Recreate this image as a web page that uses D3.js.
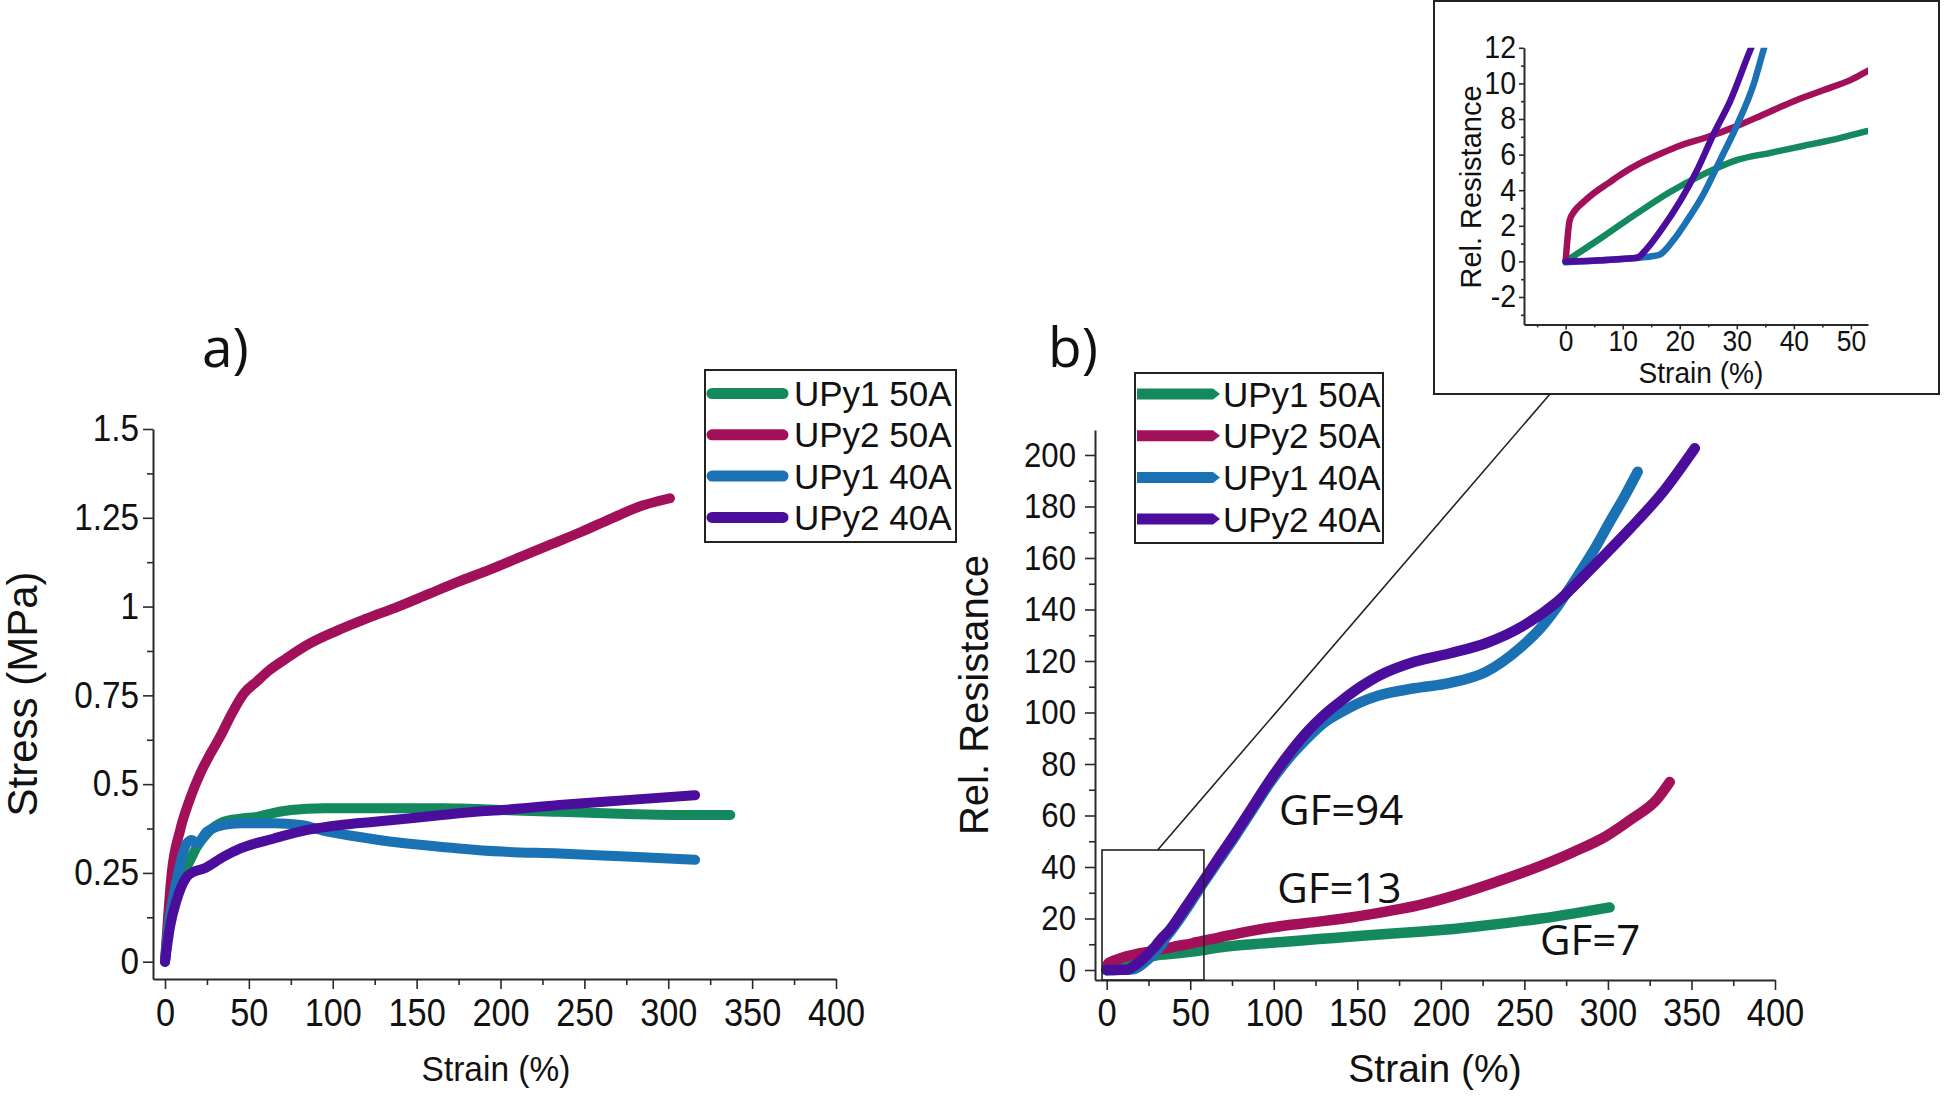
<!DOCTYPE html>
<html><head><meta charset="utf-8">
<script src="https://cdn.jsdelivr.net/npm/d3@7"></script>
<style>
html,body{margin:0;padding:0;background:#fff;}
svg{display:block;}
</style></head><body>
<svg id="chart" width="1944" height="1096"></svg>
<script>
// ---------------- DATA ----------------
const seriesNames = ["UPy1 50A", "UPy2 50A", "UPy1 40A", "UPy2 40A"];
const seriesColors = ["#14895d", "#a3105a", "#1a72b5", "#4b0d9c"];

// Panel a: stress (MPa) vs strain (%)
const stressUPy1_50A = [[0,0],[2,0.099],[7,0.2],[15,0.286],[19,0.324],[25,0.361],[35,0.394],[45,0.403],[55,0.408],[65,0.419],[75,0.427],[95,0.432],[125,0.432],[165,0.432],[201,0.427],[235,0.422],[275,0.416],[315,0.413],[337,0.413]];
const stressUPy2_50A = [[0,0],[4,0.25],[9,0.37],[15,0.46],[21,0.53],[27,0.585],[33,0.635],[40,0.7],[47,0.755],[55,0.79],[62,0.82],[72,0.853],[84,0.89],[102,0.931],[120,0.966],[139,1.0],[157,1.035],[175,1.07],[194,1.105],[212,1.14],[230,1.175],[248,1.21],[267,1.25],[285,1.285],[301,1.305]];
const stressUPy1_40A = [[0,0],[3,0.127],[7,0.23],[13,0.333],[16,0.343],[19,0.333],[25,0.366],[35,0.385],[45,0.39],[65,0.39],[81,0.385],[97,0.366],[115,0.352],[135,0.338],[155,0.328],[175,0.319],[201,0.31],[235,0.305],[275,0.296],[316,0.287]];
const stressUPy2_40A = [[0,0],[3,0.099],[7,0.174],[13,0.239],[17,0.253],[23,0.262],[35,0.296],[45,0.319],[65,0.347],[85,0.371],[105,0.385],[125,0.394],[145,0.403],[165,0.413],[185,0.422],[201,0.427],[235,0.441],[275,0.455],[316,0.469]];

// Panel b: relative resistance vs strain (%)
const resUPy1_50A = [[0,0],[6.6,1.4],[12.5,2.7],[18.3,3.9],[24.2,4.9],[30.1,5.7],[35.9,6.1],[41.8,6.5],[47.7,6.9],[52.6,7.3],[67,8.7],[87,10],[107,11],[127,12],[147,13],[167,14],[187,14.9],[200,15.5],[220,16.8],[240,18.3],[260,20],[280,22],[301,24.3]];
const resUPy2_50A = [[0,0],[0.7,2.3],[1.5,2.8],[3,3.3],[5,3.85],[7.5,4.4],[10,4.95],[13,5.5],[17,6.1],[20,6.5],[25,7.0],[30,7.6],[35,8.3],[40,9.0],[45,9.6],[50,10.2],[53,10.7],[67,12.6],[85,15],[107,17.3],[127,18.8],[147,20.5],[167,22.7],[187,25.2],[206,28.5],[230,33.5],[260,40.5],[280,46],[299,52],[315,59],[329,66],[337,73]];
const resUPy1_40A = [[0,-0.05],[9.6,0.13],[15.4,0.3],[16.6,0.4],[18.9,1.2],[21.3,2.3],[24.2,3.8],[27.1,5.7],[30.1,7.7],[33,10],[34.8,12],[40,16.5],[47,23],[57,33],[67,42.5],[77,52],[87,62],[97,72],[108,81.5],[120,90],[130,96],[141.4,100.5],[152,104],[162.8,106.6],[184.2,109.4],[205.6,111.5],[227,115.8],[248.3,125.6],[260,133],[269.7,141.1],[280.4,151.5],[291.1,162.5],[301.8,174.8],[310,184],[317.8,193.5]];
const resUPy2_40A = [[0,0],[6.6,0.07],[12.5,0.2],[14.2,0.7],[16.6,1.7],[20.1,3.4],[23,5.1],[26,7.2],[28.9,9.05],[32.4,11.9],[37,15],[47,24.2],[57,33.8],[67,43.5],[77,53],[87,63],[97,73],[108,83],[120,92.5],[130,99],[141.4,105],[152,110],[162.8,114.2],[184.2,119.7],[205.6,123],[227,126.9],[248.3,133.3],[269.7,143],[291.1,156.6],[312.5,170.9],[333.9,186.4],[352,202.6]];

// Ticks
const strainTicks = [0,50,100,150,200,250,300,350,400];
const strainMinor = [25,75,125,175,225,275,325,375];
const stressTicks = [0,0.25,0.5,0.75,1,1.25,1.5];
const stressMinor = [0.125,0.375,0.625,0.875,1.125,1.375];
const resTicks = [0,20,40,60,80,100,120,140,160,180,200];
const resMinor = [10,30,50,70,90,110,130,150,170,190];
const insetStrainTicks = [0,10,20,30,40,50];
const insetStrainMinor = [-5,5,15,25,35,45];
const insetResTicks = [-2,0,2,4,6,8,10,12];
const insetResMinor = [-3,-1,1,3,5,7,9,11];

// Annotations (data coordinates of panel b)
const gfLabels = [["GF=94",103.1,56.3],["GF=13",102.1,25.9],["GF=7",259.3,5.8]];
const zoomRegion = [-2.8, 58.2, -3.9, 46.6]; // x0,x1,y0,y1

// ---------------- DRAW ----------------
const svg = d3.select("#chart");
const FONT = "'Liberation Sans', Arial, sans-serif";
const FONT2 = "'Open Sans', 'Liberation Sans', sans-serif";
const AX = "#2a2a2a";

const stressSeries = [stressUPy1_50A, stressUPy2_50A, stressUPy1_40A, stressUPy2_40A];
const resSeries = [resUPy1_50A, resUPy2_50A, resUPy1_40A, resUPy2_40A];

function styleAxis(g, fs, sx) {
  g.attr("font-family", FONT).attr("font-size", fs);
  g.select(".domain").attr("stroke", AX).attr("stroke-width", 2);
  g.selectAll(".tick line").attr("stroke", AX).attr("stroke-width", 1.6);
  g.selectAll(".tick text").attr("fill", "#111").each(function () {
    const t = d3.select(this);
    const x = +t.attr("x") || 0;
    t.attr("x", x / sx).attr("transform", `scale(${sx},1)`);
  });
}
function drawAxes(x, y, o) {
  const gx = svg.append("g").attr("transform", `translate(0,${y.range()[0]})`)
    .call(d3.axisBottom(x).tickValues(o.xt).tickSize(o.ts).tickSizeOuter(0).tickPadding(o.xp).tickFormat(d => String(d)));
  styleAxis(gx, o.xfs, o.xsx);
  const gxm = svg.append("g").attr("transform", `translate(0,${y.range()[0]})`)
    .call(d3.axisBottom(x).tickValues(o.xm).tickSize(o.ms).tickFormat(""));
  gxm.select(".domain").remove(); styleAxis(gxm, o.xfs, 1);
  const gy = svg.append("g").attr("transform", `translate(${x.range()[0]},0)`)
    .call(d3.axisLeft(y).tickValues(o.yt).tickSize(o.ts).tickSizeOuter(0).tickPadding(o.yp).tickFormat(d => String(d)));
  styleAxis(gy, o.yfs, o.ysx);
  const gym = svg.append("g").attr("transform", `translate(${x.range()[0]},0)`)
    .call(d3.axisLeft(y).tickValues(o.ym).tickSize(o.ms).tickFormat(""));
  gym.select(".domain").remove(); styleAxis(gym, o.yfs, 1);
}
function text(t, x, y, fs, opts = {}) {
  const sx = opts.sx || 1;
  const el = svg.append("text").attr("font-size", fs)
    .attr("font-family", opts.font || FONT).attr("fill", "#111")
    .attr("text-anchor", opts.anchor || "start").text(t);
  if (opts.rotate) el.attr("x", x).attr("y", y).attr("transform", `rotate(-90,${x},${y})`);
  else el.attr("x", x / sx).attr("y", y).attr("transform", `scale(${sx},1)`);
  return el;
}

// ----- Panel a -----
const xA = d3.scaleLinear().domain([-7.15, 400]).range([153, 836]);
const yA = d3.scaleLinear().domain([-0.0487, 1.5]).range([979, 429]);
drawAxes(xA, yA, {xt: strainTicks, xm: strainMinor, yt: stressTicks, ym: stressMinor,
  ts: 10, ms: 6, xp: 9, yp: 4, xfs: 39, xsx: 0.88, yfs: 37, ysx: 0.9});

const lineA = d3.line().x(d => xA(d[0])).y(d => yA(d[1])).curve(d3.curveMonotoneX);
[1, 0, 2, 3].forEach(i => {
  svg.append("path").attr("d", lineA(stressSeries[i])).attr("fill", "none")
    .attr("stroke", seriesColors[i]).attr("stroke-width", 10)
    .attr("stroke-linecap", "round").attr("stroke-linejoin", "round");
});
text("Stress (MPa)", 37, 694, 42, {anchor: "middle", rotate: true});
text("Strain (%)", 496, 1081, 36, {anchor: "middle", sx: 0.93});
text("a)", 202, 367, 55, {font: FONT2});

// legend a
const legA = svg.append("g");
legA.append("rect").attr("x", 705).attr("y", 370).attr("width", 251).attr("height", 172)
  .attr("fill", "#fff").attr("stroke", "#222").attr("stroke-width", 2);
seriesNames.forEach((n, i) => {
  const yy = 393.5 + i * 41.3;
  legA.append("line").attr("x1", 712).attr("x2", 783).attr("y1", yy).attr("y2", yy)
    .attr("stroke", seriesColors[i]).attr("stroke-width", 11).attr("stroke-linecap", "round");
  legA.append("text").attr("x", 794).attr("y", yy + 12.5).attr("font-size", 35)
    .attr("font-family", FONT).attr("fill", "#111").text(n);
});

// ----- Panel b -----
const xB = d3.scaleLinear().domain([-7, 400]).range([1095, 1775]);
const yB = d3.scaleLinear().domain([-3.88, 209.7]).range([980, 430]);
drawAxes(xB, yB, {xt: strainTicks, xm: strainMinor, yt: resTicks, ym: resMinor,
  ts: 10, ms: 6, xp: 9, yp: 9, xfs: 38, xsx: 0.91, yfs: 35, ysx: 0.89});

const lineB = d3.line().x(d => xB(d[0])).y(d => yB(d[1])).curve(d3.curveMonotoneX);
[0, 1, 2, 3].forEach(i => {
  svg.append("path").attr("d", lineB(resSeries[i])).attr("fill", "none")
    .attr("stroke", seriesColors[i]).attr("stroke-width", 10.5)
    .attr("stroke-linecap", "round").attr("stroke-linejoin", "round");
});
text("Rel. Resistance", 988, 695, 40, {anchor: "middle", rotate: true});
text("Strain (%)", 1435, 1082, 39, {anchor: "middle"});
text("b)", 1048, 367, 55, {font: FONT2});
gfLabels.forEach(g => text(g[0], xB(g[1]), yB(g[2]), 42, {font: FONT2}));

// zoom rectangle
svg.append("rect").attr("x", xB(zoomRegion[0])).attr("y", yB(zoomRegion[3]))
  .attr("width", xB(zoomRegion[1]) - xB(zoomRegion[0]))
  .attr("height", yB(zoomRegion[2]) - yB(zoomRegion[3]))
  .attr("fill", "none").attr("stroke", "#222").attr("stroke-width", 1.6);

// legend b
const legB = svg.append("g");
legB.append("rect").attr("x", 1135).attr("y", 373).attr("width", 248).attr("height", 170)
  .attr("fill", "#fff").attr("stroke", "#222").attr("stroke-width", 2);
seriesNames.forEach((n, i) => {
  const yy = 394 + i * 41.7;
  legB.append("path").attr("d", `M1137,${yy-5.5} L1213,${yy-5.5} L1220,${yy} L1213,${yy+5.5} L1137,${yy+5.5} Z`)
    .attr("fill", seriesColors[i]);
  legB.append("text").attr("x", 1223).attr("y", yy + 12.5).attr("font-size", 35)
    .attr("font-family", FONT).attr("fill", "#111").text(n);
});

// ----- Inset -----
const frame = {x: 1434, y: 1, w: 505, h: 393};
svg.append("rect").attr("x", frame.x).attr("y", frame.y).attr("width", frame.w).attr("height", frame.h)
  .attr("fill", "#fff").attr("stroke", "#222").attr("stroke-width", 2);
svg.append("line").attr("x1", xB(30.5)).attr("y1", yB(zoomRegion[3]))
  .attr("x2", frame.x + 116).attr("y2", frame.y + frame.h)
  .attr("stroke", "#222").attr("stroke-width", 1.6);

const xI = d3.scaleLinear().domain([-7.3, 53]).range([1524, 1868]);
const yI = d3.scaleLinear().domain([-3.54, 12]).range([324.4, 47.8]);
drawAxes(xI, yI, {xt: insetStrainTicks, xm: insetStrainMinor, yt: insetResTicks, ym: insetResMinor,
  ts: 5, ms: 3, xp: 0, yp: 3, xfs: 30, xsx: 0.88, yfs: 31, ysx: 0.92});

svg.append("clipPath").attr("id", "insetClip").append("rect")
  .attr("x", xI.range()[0]).attr("y", yI.range()[1])
  .attr("width", xI.range()[1] - xI.range()[0]).attr("height", yI.range()[0] - yI.range()[1]);
const lineI = d3.line().x(d => xI(d[0])).y(d => yI(d[1])).curve(d3.curveMonotoneX);
const gI = svg.append("g").attr("clip-path", "url(#insetClip)");
[0, 1, 2, 3].forEach(i => {
  gI.append("path").attr("d", lineI(resSeries[i].filter(d => d[0] <= 70))).attr("fill", "none")
    .attr("stroke", seriesColors[i]).attr("stroke-width", 6.5)
    .attr("stroke-linecap", "round").attr("stroke-linejoin", "round");
});
text("Rel. Resistance", 1481, 187, 29, {anchor: "middle", rotate: true});
text("Strain (%)", 1701, 383, 29, {anchor: "middle", sx: 0.97});
</script>
</body></html>
